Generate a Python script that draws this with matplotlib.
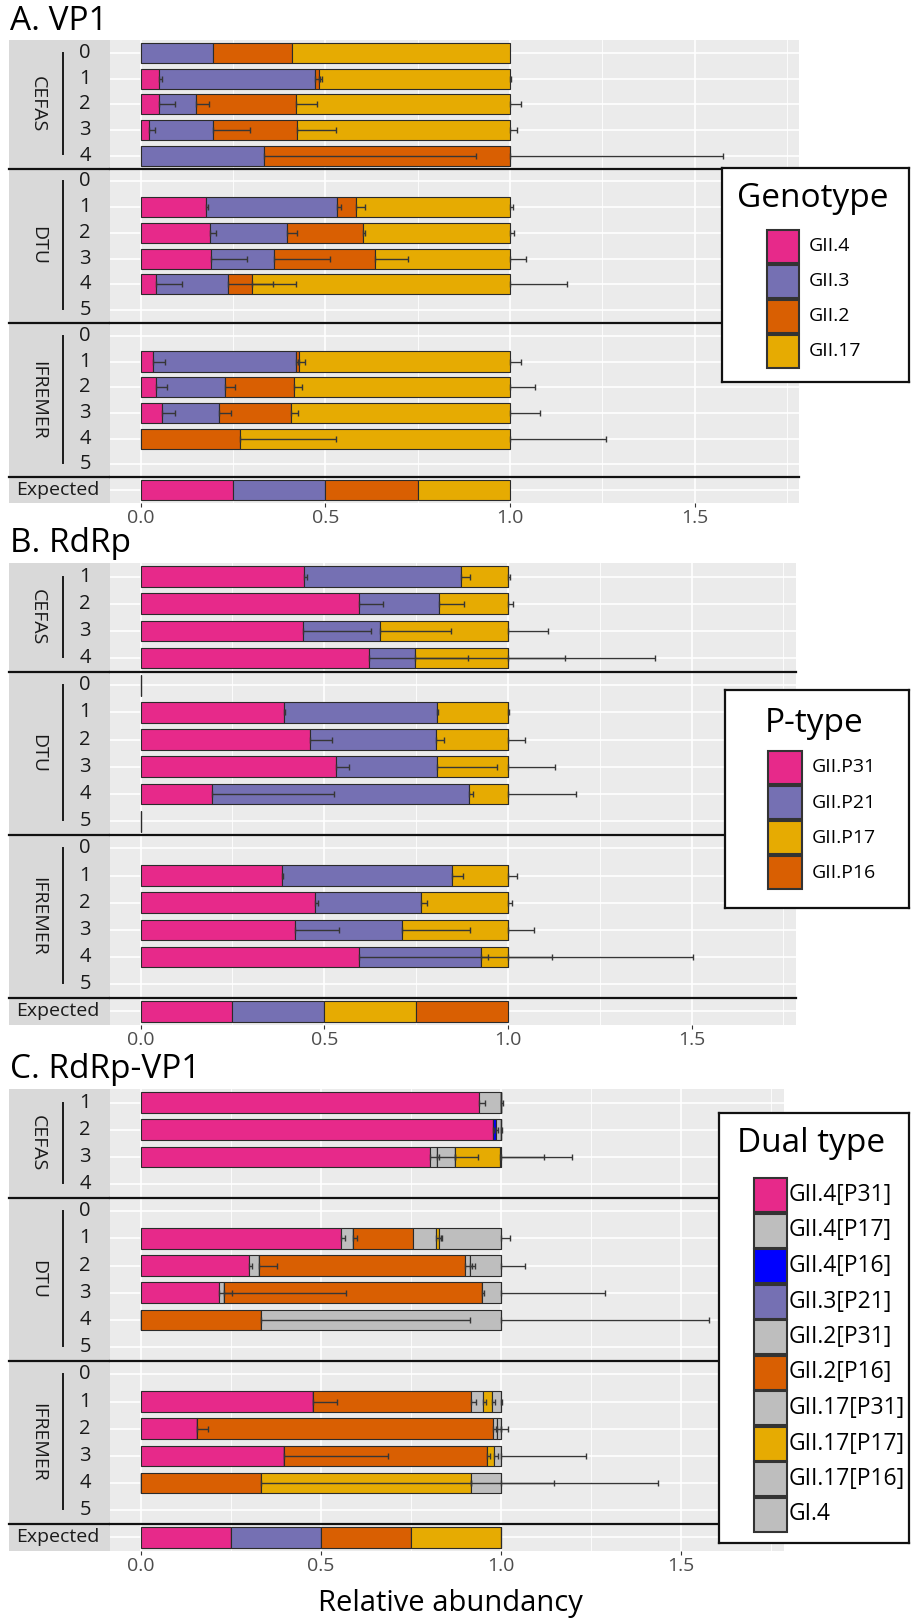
import numpy as np
import matplotlib
matplotlib.use("Agg")
import matplotlib.pyplot as plt
from matplotlib.patches import Rectangle

plt.rcParams['font.family'] = ['Open Sans', 'DejaVu Sans']

# ---------------- data ----------------
# A. VP1 genotypes
vp1_types = ["GII.4", "GII.3", "GII.2", "GII.17"]
vp1_groups = [("CEFAS", ["0", "1", "2", "3", "4"]),
              ("DTU", ["0", "1", "2", "3", "4", "5"]),
              ("IFREMER", ["0", "1", "2", "3", "4", "5"])]
# one row per label (groups in order, then "Expected"); None = no bar
vp1_values = [
    [0.000, 0.196, 0.214, 0.590],
    [0.049, 0.423, 0.011, 0.517],
    [0.050, 0.101, 0.270, 0.579],
    [0.024, 0.173, 0.227, 0.576],
    [0.000, 0.333, 0.667, 0.000],
    None,
    [0.178, 0.354, 0.050, 0.418],
    [0.189, 0.208, 0.206, 0.397],
    [0.191, 0.169, 0.274, 0.366],
    [0.041, 0.197, 0.063, 0.699],
    None,
    None,
    [0.033, 0.387, 0.009, 0.571],
    [0.043, 0.187, 0.186, 0.584],
    [0.057, 0.156, 0.194, 0.593],
    [0.000, 0.000, 0.268, 0.732],
    None,
    [0.25, 0.25, 0.25, 0.25],
]
vp1_errors = [
    [0, 0, 0, 0],
    [0.010, 0.015, 0.008, 0.002],
    [0.043, 0.034, 0.058, 0.030],
    [0.015, 0.098, 0.106, 0.020],
    [0, 0.574, 0.576, 0],
    None,
    [0.005, 0.010, 0.025, 0.008],
    [0.014, 0.027, 0.005, 0.010],
    [0.096, 0.153, 0.090, 0.043],
    [0.070, 0.120, 0.120, 0.153],
    None,
    None,
    [0.033, 0.005, 0.015, 0.030],
    [0.030, 0.027, 0.020, 0.068],
    [0.036, 0.033, 0.020, 0.082],
    [0, 0, 0.262, 0.260],
    None,
    [0, 0, 0, 0],
]

# B. RdRp P-types
rdrp_types = ["GII.P31", "GII.P21", "GII.P17", "GII.P16"]
rdrp_groups = [("CEFAS", ["1", "2", "3", "4"]),
               ("DTU", ["0", "1", "2", "3", "4", "5"]),
               ("IFREMER", ["0", "1", "2", "3", "4", "5"])]
rdrp_values = [
    [0.444, 0.427, 0.129, 0.000],
    [0.595, 0.218, 0.187, 0.000],
    [0.441, 0.210, 0.349, 0.000],
    [0.621, 0.125, 0.254, 0.000],
    [0.000, 0.000, 0.000, 0.000],
    [0.390, 0.418, 0.192, 0.000],
    [0.460, 0.343, 0.197, 0.000],
    [0.533, 0.275, 0.192, 0.000],
    [0.194, 0.701, 0.105, 0.000],
    [0.000, 0.000, 0.000, 0.000],
    None,
    [0.384, 0.465, 0.151, 0.000],
    [0.475, 0.288, 0.237, 0.000],
    [0.421, 0.292, 0.287, 0.000],
    [0.595, 0.332, 0.073, 0.000],
    None,
    [0.25, 0.25, 0.25, 0.25],
]
rdrp_errors = [
    [0.010, 0.025, 0.005, 0],
    [0.065, 0.067, 0.013, 0],
    [0.186, 0.194, 0.110, 0],
    [0.270, 0.410, 0.400, 0],
    [0, 0, 0, 0],
    [0.003, 0.003, 0.002, 0],
    [0.062, 0.022, 0.046, 0],
    [0.035, 0.162, 0.127, 0],
    [0.333, 0.010, 0.184, 0],
    [0, 0, 0, 0],
    None,
    [0.004, 0.030, 0.024, 0],
    [0.008, 0.016, 0.011, 0],
    [0.119, 0.184, 0.070, 0],
    [0.524, 0.020, 0.503, 0],
    None,
    [0, 0, 0, 0],
]

# C. RdRp-VP1 dual types
dual_types = ["GII.4[P31]", "GII.4[P17]", "GII.4[P16]", "GII.3[P21]", "GII.2[P31]",
              "GII.2[P16]", "GII.17[P31]", "GII.17[P17]", "GII.17[P16]", "GI.4"]
dual_groups = [("CEFAS", ["1", "2", "3", "4"]),
               ("DTU", ["0", "1", "2", "3", "4", "5"]),
               ("IFREMER", ["0", "1", "2", "3", "4", "5"])]
dual_values = [
    [0.940, 0.060, 0, 0, 0, 0, 0, 0, 0, 0],
    [0.977, 0, 0.010, 0, 0.013, 0, 0, 0, 0, 0],
    [0.803, 0.021, 0, 0, 0.050, 0, 0, 0.124, 0.002, 0],
    None,
    None,
    [0.557, 0.033, 0, 0, 0, 0.166, 0.063, 0.008, 0.173, 0],
    [0.301, 0.027, 0, 0, 0, 0.573, 0.012, 0, 0.087, 0],
    [0.218, 0.013, 0, 0, 0, 0.717, 0, 0, 0.052, 0],
    [0, 0, 0, 0, 0, 0.333, 0, 0, 0.667, 0],
    None,
    None,
    [0.479, 0, 0, 0, 0, 0.437, 0.034, 0.026, 0.024, 0],
    [0.157, 0, 0, 0, 0, 0.822, 0.010, 0, 0.011, 0],
    [0.398, 0, 0, 0, 0, 0.563, 0, 0.021, 0.018, 0],
    [0, 0, 0, 0, 0, 0.333, 0, 0.583, 0.084, 0],
    None,
    [0.25, 0, 0, 0.25, 0, 0.25, 0, 0.25, 0, 0],
]
dual_errors = [
    [0.015, 0.005, 0, 0, 0, 0, 0, 0, 0, 0],
    [0.004, 0, 0.004, 0, 0.003, 0, 0, 0, 0, 0],
    [0.025, 0.050, 0, 0, 0.063, 0, 0, 0.121, 0.196, 0],
    None,
    None,
    [0.010, 0.010, 0, 0, 0, 0, 0.015, 0.010, 0.025, 0],
    [0.008, 0.050, 0, 0, 0, 0.020, 0.015, 0, 0.066, 0],
    [0.035, 0.338, 0, 0, 0, 0.005, 0, 0, 0.290, 0],
    [0, 0, 0, 0, 0, 0.580, 0, 0, 0.578, 0],
    None,
    None,
    [0.066, 0, 0, 0, 0, 0.015, 0.010, 0.008, 0.004, 0],
    [0.030, 0, 0, 0, 0, 0.008, 0.010, 0, 0.020, 0],
    [0.290, 0, 0, 0, 0, 0.010, 0, 0.010, 0.235, 0],
    [0, 0, 0, 0, 0, 0.583, 0, 0.230, 0.435, 0],
    None,
    [0, 0, 0, 0, 0, 0, 0, 0, 0, 0],
]

xticks = [0.0, 0.5, 1.0, 1.5]
xtick_labels = ["0.0", "0.5", "1.0", "1.5"]

# ---------------- styles ----------------
PINK, PURPLE, ORANGE, YELLOW = '#E7298A', '#7570B3', '#D95F02', '#E6AB02'
GREY, BLUE = '#BEBEBE', '#0000FF'
vp1_colors = [PINK, PURPLE, ORANGE, YELLOW]
rdrp_colors = [PINK, PURPLE, YELLOW, ORANGE]
dual_colors = [PINK, GREY, BLUE, PURPLE, GREY, ORANGE, GREY, YELLOW, GREY, GREY]

W, H = 913, 1618
fig = plt.figure(figsize=(W / 100, H / 100), dpi=100)


def px_axes(x0, y0, x1, y1):
    # axes placed with pixel coordinates measured from the top-left corner
    return fig.add_axes([x0 / W, 1 - y1 / H, (x1 - x0) / W, (y1 - y0) / H])


def draw_panel(top, bottom, right, zero_px, one_px, bar_h, title, title_y,
               groups, values, errors, colors):
    labels = []
    for name, rows in groups:
        labels += rows
    labels.append("Expected")
    n = len(labels)
    unit = one_px - zero_px

    # strip column on the left
    sx = px_axes(8.7, top, 109.6, bottom)
    sx.set_xlim(8.7, 109.6)
    sx.set_ylim(n - 0.5, -0.5)
    sx.set_facecolor('#D9D9D9')
    sx.set_xticks([])
    sx.set_yticks([])
    for s in sx.spines.values():
        s.set_visible(False)

    ax = px_axes(109.6, top, right, bottom)
    ax.set_xlim((109.6 - zero_px) / unit, (right - zero_px) / unit)
    ax.set_ylim(n - 0.5, -0.5)
    ax.set_facecolor('#EBEBEB')
    for s in ax.spines.values():
        s.set_visible(False)
    ax.set_xticks(xticks)
    ax.set_xticklabels(xtick_labels)
    ax.set_xticks([0.25, 0.75, 1.25, 1.75], minor=True)
    ax.set_yticks(range(n))
    ax.tick_params(axis='y', length=0, labelleft=False)
    ax.tick_params(axis='x', which='major', length=3, color='#333333',
                   labelsize=14, labelcolor='#4D4D4D', pad=1)
    ax.tick_params(axis='x', which='minor', length=0)
    ax.grid(True, which='major', color='white', linewidth=1.2)
    ax.grid(True, which='minor', axis='x', color='white', linewidth=0.6)
    ax.set_axisbelow(True)

    # stacked bars
    idx = [i for i, v in enumerate(values) if v is not None]
    vals = np.array([values[i] for i in idx], dtype=float)
    errs = np.array([errors[i] for i in idx], dtype=float)
    ends = np.cumsum(vals, axis=1)
    lefts = ends - vals
    for k in range(vals.shape[1]):
        ax.barh(idx, vals[:, k], left=lefts[:, k], height=bar_h, color=colors[k],
                edgecolor='#2B2B2B', linewidth=0.8, zorder=3)
    for r, i in enumerate(idx):
        for k in range(vals.shape[1]):
            if errs[r, k] > 0:
                ax.errorbar(ends[r, k], i, xerr=[[0], [errs[r, k]]], fmt='none',
                            ecolor='#363636', elinewidth=1.0, capsize=2.5,
                            capthick=1.0, zorder=4)

    # strip labels and group separators
    start = 0
    for name, rows in groups:
        end = start + len(rows) - 1
        sx.text(38, (start + end) / 2, name, rotation=270, ha='center', va='center',
                fontsize=14, color='#1A1A1A')
        sx.plot([63, 63], [start, end - 0.05], color='#1A1A1A', linewidth=1.4)
        for j, lab in enumerate(rows):
            sx.text(85, start + j, lab, ha='center', va='center', fontsize=14.5,
                    color='#1A1A1A')
        start = end + 1
        for a in (sx, ax):
            a.axhline(start - 0.5, color='#111111', linewidth=1.6, clip_on=False, zorder=6)
    sx.text(58, n - 1, "Expected", ha='center', va='center', fontsize=14,
            color='#1A1A1A')

    fig.text(10 / W, 1 - title_y / H, title, fontsize=24, ha='left', va='center')
    return ax


def draw_legend(x0, y0, x1, y1, title, title_y, key_x0, key_w, key_y0, key_h,
                pitch, label_x, label_size, names, colors):
    lx = px_axes(x0, y0, x1, y1)
    lx.set_zorder(10)
    lx.set_xlim(x0, x1)
    lx.set_ylim(y1, y0)
    lx.set_xticks([])
    lx.set_yticks([])
    lx.set_facecolor('white')
    for s in lx.spines.values():
        s.set_color('#111111')
        s.set_linewidth(1.6)
    lx.text((x0 + x1) / 2 - 3, title_y, title, ha='center', va='center', fontsize=24)
    for j, (nm, c) in enumerate(zip(names, colors)):
        ky = key_y0 + j * pitch
        lx.add_patch(Rectangle((key_x0, ky), key_w, key_h, facecolor=c,
                               edgecolor='#333333', linewidth=1.5))
        lx.text(label_x, ky + key_h / 2, nm, ha='left', va='center', fontsize=label_size)


draw_panel(40, 503, 799, 140.5, 510.0, 0.78, "A. VP1", 21,
           vp1_groups, vp1_values, vp1_errors, vp1_colors)
draw_panel(563, 1025, 796, 140.5, 507.9, 0.76, "B. RdRp", 544,
           rdrp_groups, rdrp_values, rdrp_errors, rdrp_colors)
draw_panel(1089, 1551, 784, 140.5, 500.9, 0.76, "C. RdRp-VP1", 1069,
           dual_groups, dual_values, dual_errors, dual_colors)

draw_legend(722, 168, 909, 382, "Genotype", 199, 767, 32, 230, 33, 35, 809, 14,
            vp1_types, vp1_colors)
draw_legend(725, 690, 909, 908, "P-type", 723, 768, 34, 751, 33, 35, 812, 14,
            rdrp_types, rdrp_colors)
draw_legend(719, 1113, 909, 1543, "Dual type", 1144, 754, 33, 1178, 34, 35.5, 789, 16.5,
            dual_types, dual_colors)

fig.text(450 / W, 1 - 1603 / H, "Relative abundancy", ha='center', va='center', fontsize=21)

fig.savefig("out.png", dpi=100)
